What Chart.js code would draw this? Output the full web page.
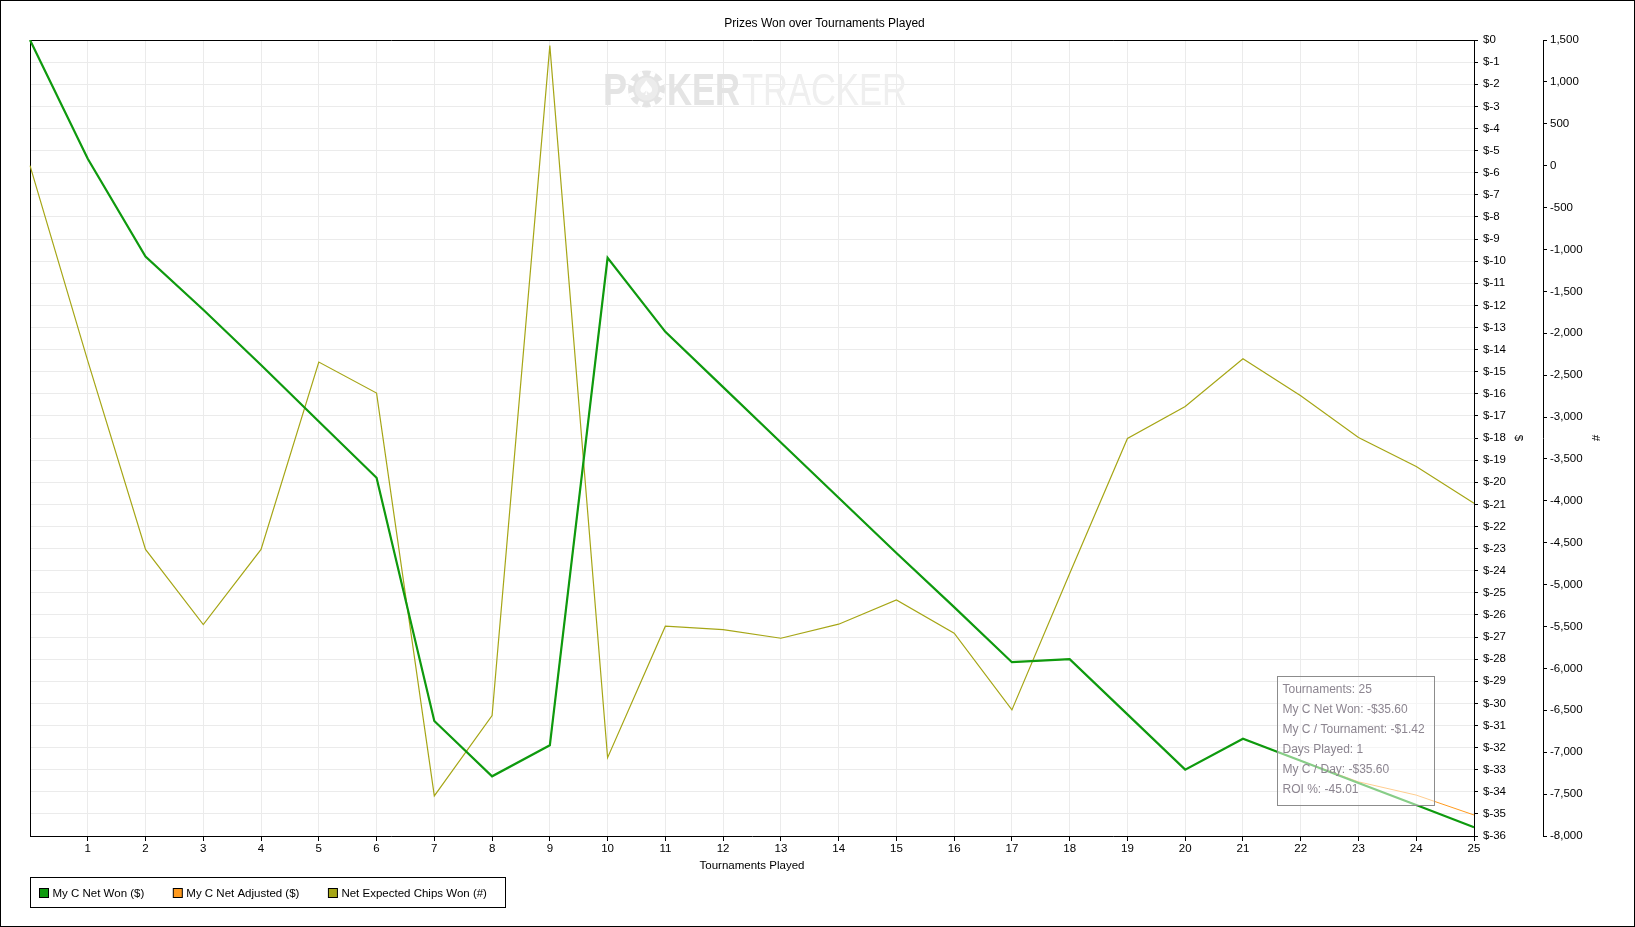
<!DOCTYPE html>
<html>
<head>
<meta charset="utf-8">
<title>Prizes Won over Tournaments Played</title>
<script src="https://cdn.jsdelivr.net/npm/chart.js@4.4.1/dist/chart.umd.min.js"></script>
<style>
  html, body { margin: 0; padding: 0; background: #ffffff; overflow: hidden; }
  #wrap { width: 1635px; height: 927px; }
</style>
</head>
<body>
<div id="wrap"><canvas id="c" width="1635" height="927"></canvas></div>
<script>
// ---- data ----
const tournaments = [0, 1, 2, 3, 4, 5, 6, 7, 8, 9, 10, 11, 12, 13, 14, 15, 16, 17, 18, 19, 20, 21, 22, 23, 24, 25];
const netWon = [0, -5.37, -9.79, -12.2, -14.7, -17.25, -19.8, -30.8, -33.3, -31.9, -9.85, -13.2, -15.7, -18.2, -20.7, -23.2, -25.65, -28.14, -28.0, -30.5, -33.0, -31.6, -32.6, -33.6, -34.6, -35.6];
const netAdjusted = [0, -5.37, -9.79, -12.2, -14.7, -17.25, -19.8, -30.8, -33.3, -31.9, -9.85, -13.2, -15.7, -18.2, -20.7, -23.2, -25.65, -28.14, -28.0, -30.5, -33.0, -31.6, -32.6, -33.55, -34.15, -35.05];
const expectedChips = [0, -2330, -4580, -5476, -4580, -2344, -2714, -7522, -6563, 1433, -7065, -5496, -5537, -5640, -5472, -5182, -5580, -6495, -4868, -3256, -2874, -2305, -2747, -3244, -3591, -4028];
const seriesNames = ['My C Net Won ($)', 'My C Net Adjusted ($)', 'Net Expected Chips Won (#)'];
const seriesColors = ['#0e9a0e', '#ff9a1e', '#a6a616'];
const dollarMin = -36, dollarMax = 0, dollarStep = 1;
const chipsMin = -8000, chipsMax = 1500, chipsStep = 500;
const summaryLines = ['Tournaments: 25', 'My C Net Won: -$35.60', 'My C / Tournament: -$1.42', 'Days Played: 1', 'My C / Day: -$35.60', 'ROI %: -45.01'];
const chartTitle = 'Prizes Won over Tournaments Played';
const xTitle = 'Tournaments Played';

const FONT = "'Liberation Sans', Arial, sans-serif";

const backgroundPlugin = {
  id: 'bg',
  beforeDraw(chart) {
    const ctx = chart.ctx;
    ctx.save();
    ctx.fillStyle = '#ffffff';
    ctx.fillRect(0, 0, chart.width, chart.height);
    ctx.restore();
  }
};

function drawScaledText(ctx, text, x, baseline, targetW) {
  const w = ctx.measureText(text).width;
  ctx.save();
  ctx.translate(x, baseline);
  ctx.scale(targetW / w, 1);
  ctx.fillText(text, 0, 0);
  ctx.restore();
}

const watermarkPlugin = {
  id: 'watermark',
  beforeDatasetsDraw(chart) {
    const ctx = chart.ctx;
    const a = chart.chartArea;
    ctx.save();
    ctx.textAlign = 'left';
    ctx.textBaseline = 'alphabetic';
    const x0 = a.left + 573, base = a.top + 65;
    ctx.font = 'bold 45px ' + FONT;
    ctx.fillStyle = '#e4e4e4';
    drawScaledText(ctx, 'P', x0, base, 24);
    // chip "O"
    const cx = x0 + 43.5, cy = base - 16, r = 18.5;
    ctx.beginPath(); ctx.arc(cx, cy, r, 0, Math.PI * 2); ctx.fillStyle = '#e4e4e4'; ctx.fill();
    ctx.fillStyle = '#ffffff';
    for (let i = 0; i < 8; i++) {
      const ang = i * Math.PI / 4 + Math.PI / 8;
      ctx.save(); ctx.translate(cx, cy); ctx.rotate(ang);
      ctx.fillRect(r - 5, -2.5, 5, 5);
      ctx.restore();
    }
    ctx.beginPath(); ctx.arc(cx, cy, 11.5, 0, Math.PI * 2); ctx.fillStyle = '#ececec'; ctx.fill();
    ctx.font = '20px DejaVu Sans';
    ctx.fillStyle = '#ffffff';
    ctx.textAlign = 'center'; ctx.textBaseline = 'middle';
    ctx.fillText('\u2660', cx, cy + 1);
    ctx.textAlign = 'left'; ctx.textBaseline = 'alphabetic';
    ctx.font = 'bold 45px ' + FONT;
    ctx.fillStyle = '#e4e4e4';
    drawScaledText(ctx, 'KER', x0 + 64, base, 73);
    ctx.font = '45px ' + FONT;
    ctx.fillStyle = '#efefef';
    drawScaledText(ctx, 'TRACKER', x0 + 139, base, 165);
    // frame of plot area (top & left)
    ctx.strokeStyle = '#000000';
    ctx.lineWidth = 1;
    ctx.beginPath();
    ctx.moveTo(Math.round(a.left) + 0.5, Math.round(a.bottom));
    ctx.lineTo(Math.round(a.left) + 0.5, Math.round(a.top) + 0.5);
    ctx.lineTo(Math.round(a.right), Math.round(a.top) + 0.5);
    ctx.stroke();
    ctx.restore();
  }
};

const overlayPlugin = {
  id: 'overlay',
  afterDraw(chart) {
    const ctx = chart.ctx;
    const a = chart.chartArea;
    ctx.save();
    // summary box
    const bx = Math.round(a.right) - 197 + 0.5, by = Math.round(a.bottom) - 160 + 0.5, bw = 157, bh = 129;
    ctx.fillStyle = 'rgba(255,255,255,0.5)';
    ctx.fillRect(bx, by, bw, bh);
    ctx.strokeStyle = '#8c8c8c';
    ctx.lineWidth = 1;
    ctx.strokeRect(bx, by, bw, bh);
    ctx.fillStyle = '#8c8590';
    ctx.font = '12px ' + FONT;
    ctx.textAlign = 'left';
    ctx.textBaseline = 'middle';
    summaryLines.forEach((t, i) => ctx.fillText(t, bx + 5, by + 13 + i * 20));

    // legend
    const lx = 30.5, ly = 877.5, lh = 30;
    ctx.font = '11.5px ' + FONT;
    let x = lx + 9;
    const items = chart.data.datasets.map(d => ({ text: d.label, color: d.borderColor }));
    const xs = [];
    items.forEach(it => {
      xs.push(x);
      x += 13 + ctx.measureText(it.text).width + 29;
    });
    const lw = 475;
    ctx.fillStyle = '#ffffff';
    ctx.fillRect(lx, ly, lw, lh);
    ctx.strokeStyle = '#000000';
    ctx.strokeRect(lx, ly, lw, lh);
    items.forEach((it, i) => {
      ctx.fillStyle = it.color;
      ctx.fillRect(xs[i], ly + 11, 9, 9);
      ctx.strokeStyle = '#000000';
      ctx.strokeRect(xs[i], ly + 11, 9, 9);
      ctx.fillStyle = '#000000';
      ctx.textBaseline = 'middle';
      ctx.fillText(it.text, xs[i] + 13, ly + 16);
    });

    // outer border
    ctx.strokeStyle = '#000000';
    ctx.strokeRect(0.5, 0.5, chart.width - 1, chart.height - 1);
    ctx.restore();
  }
};

const tickFont = { family: FONT, size: 11.5 };

new Chart(document.getElementById('c'), {
  type: 'line',
  data: {
    labels: tournaments,
    datasets: [
      { label: seriesNames[0], data: netWon, borderColor: seriesColors[0], backgroundColor: seriesColors[0], borderWidth: 2.2, yAxisID: 'y', pointRadius: 0, tension: 0, fill: false },
      { label: seriesNames[1], data: netAdjusted, borderColor: seriesColors[1], backgroundColor: seriesColors[1], borderWidth: 1, yAxisID: 'y', pointRadius: 0, tension: 0, fill: false },
      { label: seriesNames[2], data: expectedChips, borderColor: seriesColors[2], backgroundColor: seriesColors[2], borderWidth: 1.2, yAxisID: 'y2', pointRadius: 0, tension: 0, fill: false }
    ]
  },
  options: {
    responsive: false,
    animation: false,
    devicePixelRatio: 1,
    layout: { padding: { left: 14, right: 0, top: 0, bottom: 51 } },
    plugins: {
      legend: { display: false },
      tooltip: { enabled: false },
      title: {
        display: true,
        text: chartTitle,
        color: '#000000',
        font: { family: FONT, size: 12, weight: 'normal' },
        padding: { top: 16, bottom: 9.6 }
      }
    },
    scales: {
      x: {
        type: 'category',
        offset: false,
        grid: { color: '#ebebeb', lineWidth: 1, tickLength: 5, drawTicks: true,
          tickColor: c => (c.index === 0 ? 'rgba(0,0,0,0)' : '#000000') },
        border: { color: '#000000', width: 1 },
        ticks: {
          color: '#000000', font: tickFont, padding: 1, autoSkip: false, maxRotation: 0,
          callback: function (v, i) { return i === 0 ? '' : String(tournaments[i]); }
        },
        title: { display: true, text: xTitle, color: '#000000', font: tickFont, padding: { top: 0, bottom: 3.5 } },
        afterFit: s => { s.height = 40; }
      },
      yLeft: {
        type: 'linear',
        position: 'left',
        min: dollarMin, max: dollarMax,
        display: true,
        grid: { display: false, drawOnChartArea: false, drawTicks: false },
        border: { display: false },
        ticks: { display: false },
        afterFit: s => { s.width = 16; }
      },
      y: {
        type: 'linear',
        position: 'right',
        min: dollarMin, max: dollarMax,
        grid: { color: '#ebebeb', lineWidth: 1, tickColor: '#000000', tickLength: 4 },
        border: { color: '#000000', width: 1 },
        ticks: { stepSize: dollarStep, autoSkip: false, color: '#000000', font: tickFont, padding: 5,
          callback: v => '$' + v },
        title: { display: true, text: '$', color: '#000000', font: tickFont, padding: { top: 18, bottom: 0 } },
        afterFit: s => { s.width = 69; }
      },
      y2: {
        type: 'linear',
        position: 'right',
        min: chipsMin, max: chipsMax,
        grid: { drawOnChartArea: false, tickColor: '#000000', tickLength: 4 },
        border: { color: '#000000', width: 1 },
        ticks: { stepSize: chipsStep, autoSkip: false, color: '#000000', font: tickFont, padding: 3,
          callback: v => v.toLocaleString('en-US') },
        title: { display: true, text: '#', color: '#000000', font: tickFont, padding: { top: 33, bottom: 0 } },
        afterFit: s => { s.width = 92; }
      }
    }
  },
  plugins: [backgroundPlugin, watermarkPlugin, overlayPlugin]
});
</script>
</body>
</html>
